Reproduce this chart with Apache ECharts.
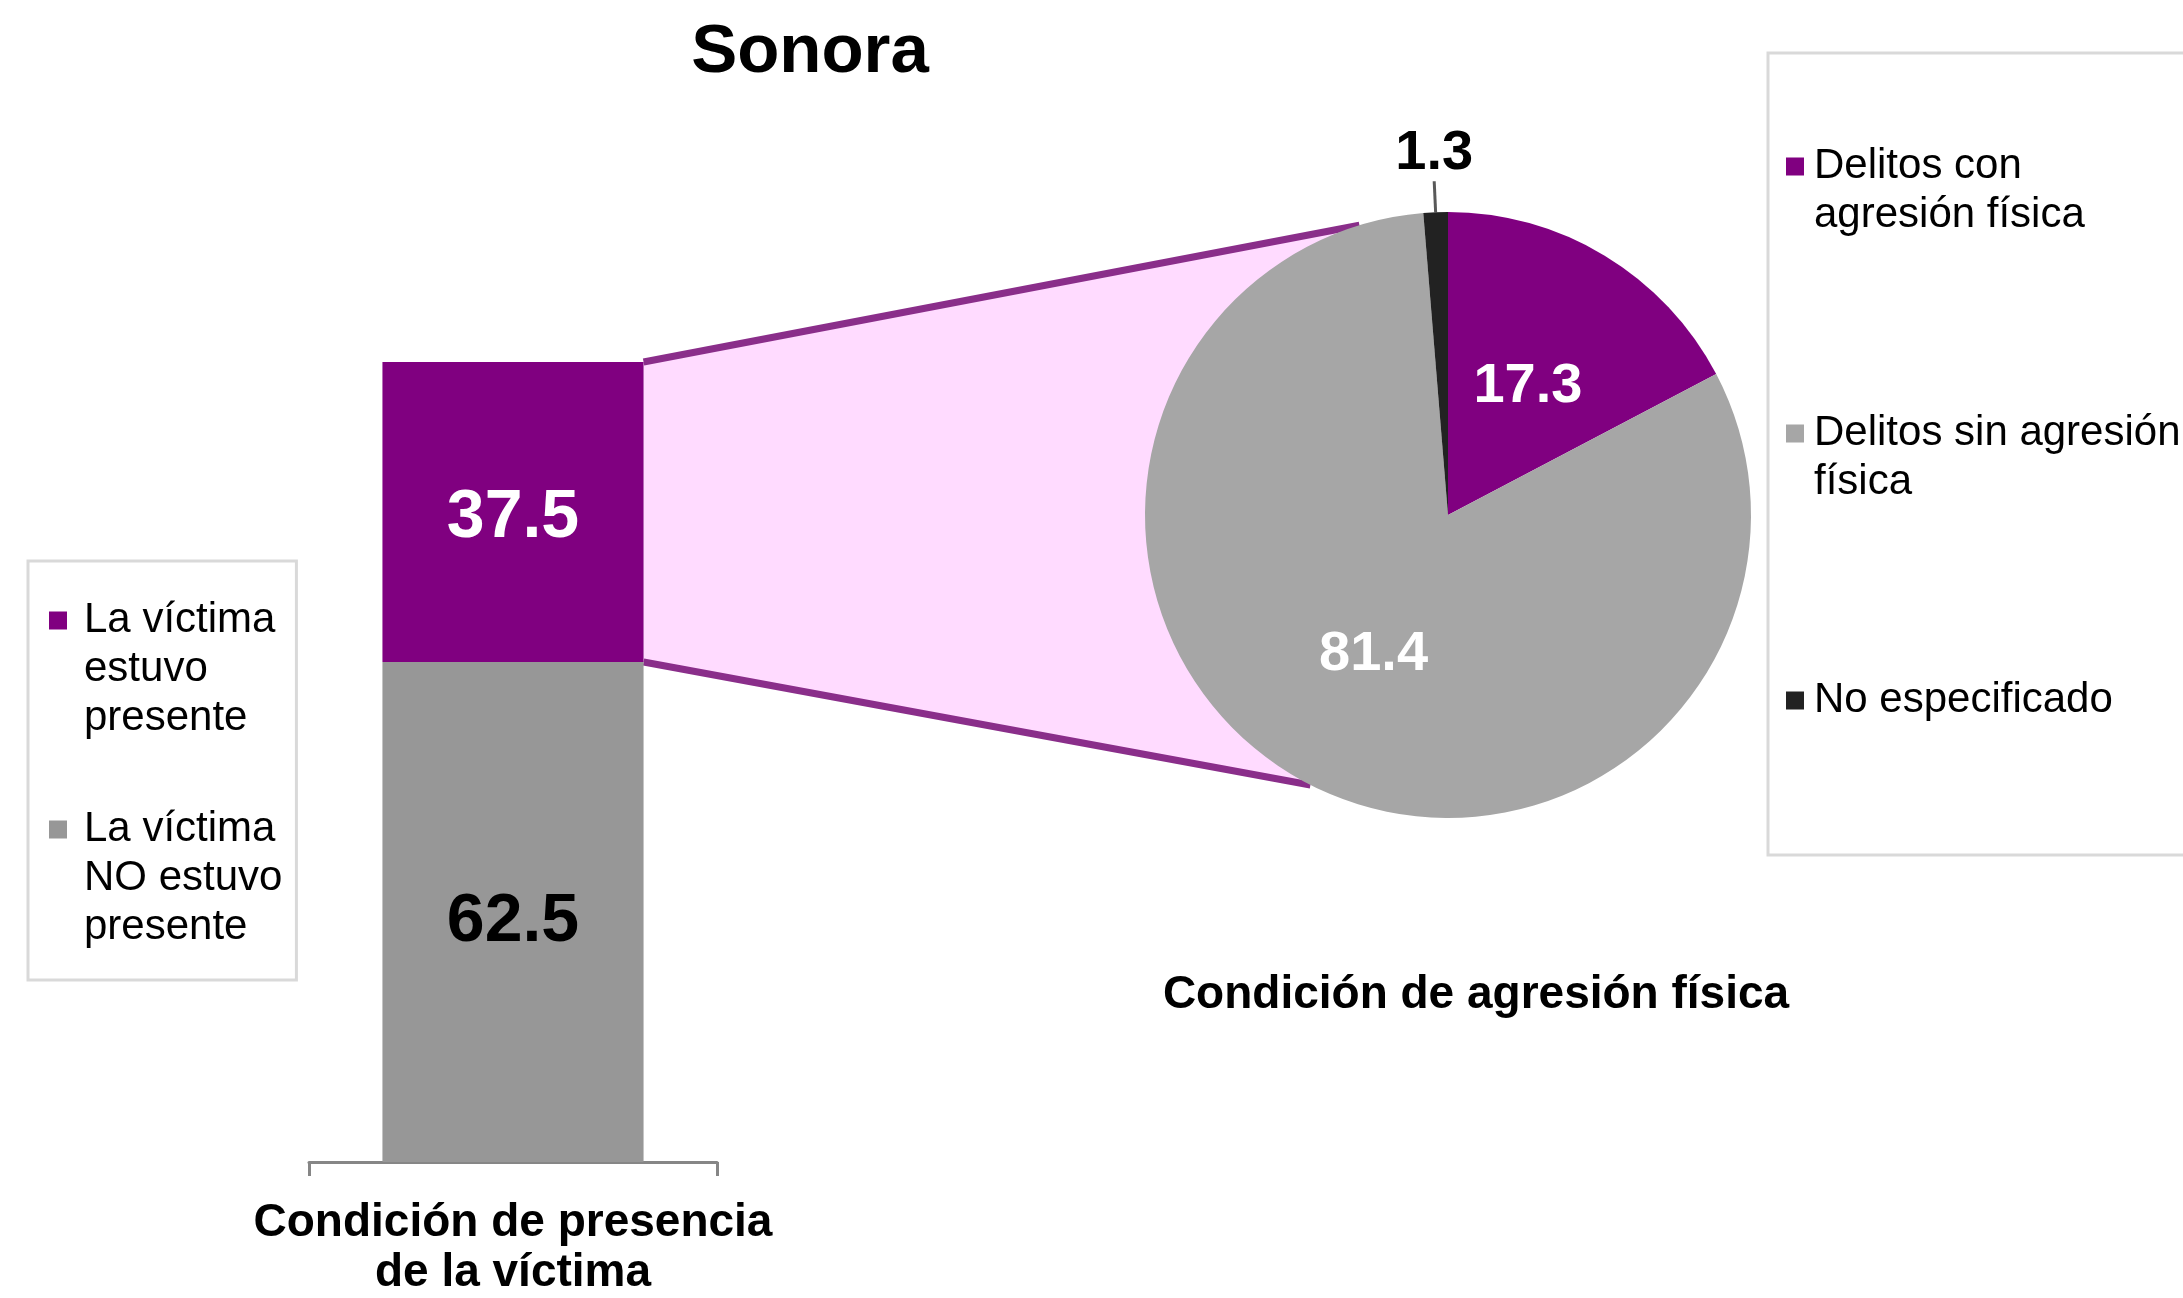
<!DOCTYPE html>
<html>
<head>
<meta charset="utf-8">
<title>Sonora</title>
<script src="https://cdn.jsdelivr.net/npm/echarts@6/dist/echarts.min.js"></script>
<style>
html, body { margin: 0; padding: 0; background: #fff; }
#chart { width: 2183px; height: 1298px; }
</style>
</head>
<body>
<div id="chart"></div>
<script>
// datos
var titulo = 'Sonora';
var presenciaCategoria = ['Condición de presencia\nde la víctima'];
var presenciaNombres = ['La víctima estuvo presente', 'La víctima NO estuvo presente'];
var presenciaValores = [37.5, 62.5];
var agresionTitulo = 'Condición de agresión física';
var agresionNombres = ['Delitos con agresión física', 'Delitos sin agresión física', 'No especificado'];
var agresionValores = [17.3, 81.4, 1.3];

// texto de la leyenda partido en lineas (la linea vacia final mantiene la altura)
var leyendaTexto = {
	'La víctima estuvo presente': 'La víctima\nestuvo\npresente',
	'La víctima NO estuvo presente': 'La víctima\nNO estuvo\npresente',
	'Delitos con agresión física': 'Delitos con\nagresión física',
	'Delitos sin agresión física': 'Delitos sin agresión\nfísica',
	'No especificado': 'No especificado\n '
};

var morado = '#800080';
var grisBarra = '#979797';
var grisPie = '#A6A6A6';
var negro = '#222222';
var fuente = "'Liberation Sans', Arial, sans-serif";

var pieCentro = [1448, 515];
var pieRadio = 303;

// iconos cuadrados alineados con la primera linea del texto (los puntos extra solo amplian la caja)
var iconoTres = 'path://M0,0H10V10H0Z M16.66,64.43H16.67V64.44H16.66Z';
var iconoDos = 'path://M0,0H10V10H0Z M12.77,37.21H12.78V37.22H12.77Z';

var myChart = echarts.init(document.getElementById('chart'));

var option = {
	backgroundColor: '#fff',
	animation: false,
	textStyle: { fontFamily: fuente },
	title: [{
		text: titulo,
		left: 810,
		top: 18,
		padding: 0,
		textAlign: 'center',
		textStyle: { fontSize: 69, fontWeight: 'bold', color: '#000', fontFamily: fuente }
	}, {
		text: agresionTitulo,
		left: 1476,
		top: 972,
		padding: 0,
		textAlign: 'center',
		textStyle: { fontSize: 46, fontWeight: 'bold', color: '#000', fontFamily: fuente }
	}],
	legend: [{
		orient: 'vertical',
		left: 28,
		top: 561,
		padding: [35, 14, 28, 21],
		itemGap: 62,
		itemWidth: 30,
		itemHeight: 116,
		borderColor: '#D9D9D9',
		borderWidth: 3,
		selectedMode: false,
		data: [
			{ name: presenciaNombres[0], icon: iconoTres },
			{ name: presenciaNombres[1], icon: iconoTres }
		],
		formatter: function(n) { return leyendaTexto[n] || n; },
		textStyle: { fontSize: 42, lineHeight: 49, color: '#000', fontFamily: fuente }
	}, {
		orient: 'vertical',
		left: 1768,
		top: 53,
		padding: [89, 40, 81, 18],
		itemGap: 169,
		itemWidth: 23,
		itemHeight: 67,
		borderColor: '#D9D9D9',
		borderWidth: 3,
		selectedMode: false,
		data: [
			{ name: agresionNombres[0], icon: iconoDos },
			{ name: agresionNombres[1], icon: iconoDos },
			{ name: agresionNombres[2], icon: iconoDos }
		],
		formatter: function(n) { return leyendaTexto[n] || n; },
		textStyle: { fontSize: 42, lineHeight: 49, color: '#000', fontFamily: fuente }
	}],
	grid: {
		left: 309,
		right: 2183 - 717,
		top: 362,
		bottom: 1298 - 1162
	},
	xAxis: {
		type: 'category',
		data: presenciaCategoria,
		axisLine: { lineStyle: { color: '#868686', width: 3 } },
		axisTick: { show: true, length: 14, lineStyle: { color: '#868686', width: 3 } },
		axisLabel: {
			margin: 36,
			fontSize: 46,
			lineHeight: 50,
			fontWeight: 'bold',
			color: '#000',
			fontFamily: fuente
		}
	},
	yAxis: {
		type: 'value',
		min: 0,
		max: 100,
		show: false
	},
	series: [{
		// abajo: no estuvo presente
		name: presenciaNombres[1],
		type: 'bar',
		stack: 'presencia',
		barWidth: '64%',
		data: [presenciaValores[1]],
		itemStyle: { color: grisBarra },
		label: {
			show: true,
			position: 'inside',
			offset: [0, 10],
			color: '#000',
			fontSize: 68,
			fontWeight: 'bold',
			fontFamily: fuente
		}
	}, {
		// arriba: estuvo presente
		name: presenciaNombres[0],
		type: 'bar',
		stack: 'presencia',
		barWidth: '64%',
		data: [presenciaValores[0]],
		itemStyle: { color: morado },
		label: {
			show: true,
			position: 'inside',
			offset: [0, 6],
			color: '#fff',
			fontSize: 68,
			fontWeight: 'bold',
			fontFamily: fuente
		}
	}, {
		name: agresionTitulo,
		type: 'pie',
		center: pieCentro,
		radius: pieRadio,
		startAngle: 90,
		clockwise: true,
		z: 3,
		emphasis: { disabled: true },
		data: [{
			name: agresionNombres[0],
			value: agresionValores[0],
			itemStyle: { color: morado },
			label: { position: 'inside', color: '#fff' }
		}, {
			name: agresionNombres[1],
			value: agresionValores[1],
			itemStyle: { color: grisPie },
			label: { position: 'inside', color: '#fff' }
		}, {
			name: agresionNombres[2],
			value: agresionValores[2],
			itemStyle: { color: negro },
			label: { position: 'outside', color: '#000' },
			labelLine: { show: true, length: 35, length2: 0, lineStyle: { color: '#595959', width: 3 } }
		}],
		label: {
			show: true,
			formatter: '{c}',
			fontSize: 56,
			fontWeight: 'bold',
			fontFamily: fuente
		},
		labelLine: { show: false },
		labelLayout: function(params) {
			if (params.dataIndex === 2 && params.labelLinePoints) {
				var pts = params.labelLinePoints;
				var fin = pts[pts.length - 1];
				return { x: fin[0], y: fin[1] + 4, align: 'center', verticalAlign: 'bottom' };
			}
			return { dy: 2 };
		}
	}]
};
myChart.setOption(option);

// conectores entre la barra y el pastel
var barLayout = myChart.getModel().getSeriesByIndex(1).getData().getItemLayout(0);
var barDerecha = barLayout.x + barLayout.width;
var barArriba = Math.min(barLayout.y, barLayout.y + barLayout.height);
var barCorte = Math.max(barLayout.y, barLayout.y + barLayout.height);

function enCirculo(grados) {
	var a = grados * Math.PI / 180;
	return [pieCentro[0] + pieRadio * Math.cos(a), pieCentro[1] - pieRadio * Math.sin(a)];
}
var pArriba = enCirculo(107);
var pAbajo = enCirculo(243);

myChart.setOption({
	graphic: [{
		type: 'polygon',
		z: 1,
		shape: { points: [[barDerecha, barArriba], pArriba, pieCentro, pAbajo, [barDerecha, barCorte]] },
		style: { fill: '#FFDBFF' }
	}, {
		type: 'line',
		z: 1,
		shape: { x1: barDerecha, y1: barArriba, x2: pArriba[0], y2: pArriba[1] },
		style: { stroke: '#8A2E8A', lineWidth: 7 }
	}, {
		type: 'line',
		z: 1,
		shape: { x1: barDerecha, y1: barCorte, x2: pAbajo[0], y2: pAbajo[1] },
		style: { stroke: '#8A2E8A', lineWidth: 7 }
	}]
});
</script>
</body>
</html>
